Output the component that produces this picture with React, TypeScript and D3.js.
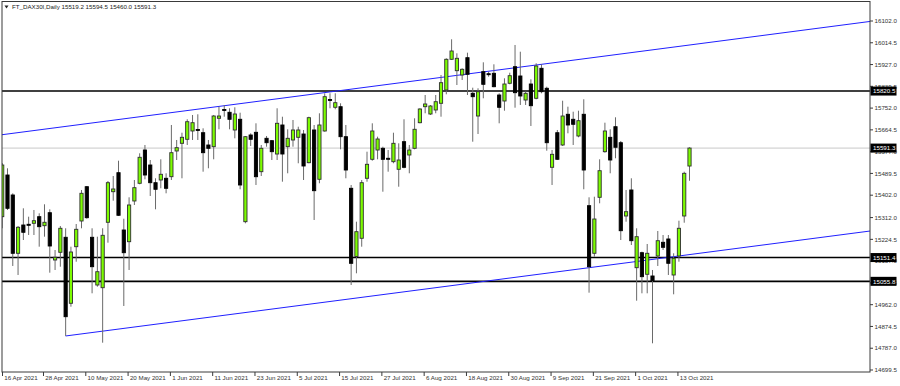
import React from 'react';
import * as d3 from 'd3';

const W = 900;
const H = 386;

const title = 'FT_DAX30I,Daily  15519.2 15594.5 15460.0 15591.3';

const dateLabels = [
  '16 Apr 2021', '28 Apr 2021', '10 May 2021', '20 May 2021', '1 Jun 2021', '11 Jun 2021',
  '23 Jun 2021', '5 Jul 2021', '15 Jul 2021', '27 Jul 2021', '6 Aug 2021', '18 Aug 2021',
  '30 Aug 2021', '9 Sep 2021', '21 Sep 2021', '1 Oct 2021', '13 Oct 2021',
];
const dateLabelBar = [0, 8, 16, 24, 32, 40, 48, 56, 64, 72, 80, 88, 96, 104, 112, 120, 128];

const priceTicks = [
  16102.0, 16014.5, 15927.0, 15839.5, 15752.0, 15664.5, 15577.0, 15489.5, 15402.0,
  15312.0, 15224.5, 15137.0, 15049.5, 14962.0, 14874.5, 14787.0, 14699.5,
];

const opens = [
  15315.6, 15483.1, 15402.8, 15168.5, 15282.2, 15285.0, 15289.0, 15315.6, 15279.4, 15331.6,
  15141.6, 15172.5, 15232.8, 14967.6, 15195.0, 15298.3, 15436.1, 15232.8, 15041.1, 15030.2,
  15293.1, 15416.0, 15492.4, 15262.1, 15215.1, 15378.7, 15449.8, 15583.6, 15523.3, 15452.2,
  15463.1, 15469.9, 15476.3, 15579.6, 15610.5, 15626.6, 15660.0, 15666.0, 15653.1, 15603.7,
  15596.9, 15711.0, 15746.4, 15735.1, 15664.0, 15707.0, 15295.5, 15643.9, 15654.7, 15496.4,
  15630.6, 15621.0, 15567.5, 15684.1, 15596.9, 15623.8, 15634.6, 15647.9, 15532.6, 15664.0,
  15465.9, 15660.0, 15786.5, 15755.2, 15757.6, 15637.1, 15429.7, 15155.6, 15228.8, 15469.9,
  15546.2, 15583.6, 15590.4, 15550.3, 15536.6, 15506.1, 15617.0, 15563.5, 15590.4, 15693.3,
  15757.6, 15728.3, 15744.4, 15771.3, 15824.7, 15948.1, 15902.3, 15885.0, 15954.5, 15811.5,
  15720.2, 15898.3, 15890.2, 15891.8, 15804.6, 15780.5, 15851.7, 15918.4, 15881.0, 15784.5,
  15848.8, 15791.4, 15911.9, 15831.6, 15514.1, 15653.1, 15603.7, 15727.1, 15707.0, 15639.9,
  15727.1, 15359.8, 15168.5, 15393.5, 15576.8, 15634.6, 15677.2, 15612.9, 15318.4, 15422.9,
  15110.6, 15170.9, 15084.1, 15077.3, 15157.6, 15212.7, 15226.0, 15081.3, 15157.6, 15318.4,
  15519.2,
];
const highs = [
  15531.4, 15510.1, 15409.6, 15278.2, 15349.3, 15315.6, 15342.5, 15329.2, 15365.4, 15345.3,
  15181.7, 15278.2, 15269.0, 15195.0, 15286.2, 15422.9, 15438.9, 15269.0, 15235.2, 15269.0,
  15459.0, 15479.1, 15540.6, 15307.5, 15393.5, 15463.1, 15570.3, 15603.7, 15543.4, 15469.9,
  15546.2, 15490.0, 15684.1, 15623.8, 15653.1, 15707.0, 15724.3, 15727.1, 15670.8, 15623.8,
  15724.3, 15757.6, 15764.4, 15751.2, 15755.2, 15733.5, 15639.9, 15650.7, 15690.9, 15603.7,
  15639.9, 15623.8, 15751.2, 15717.4, 15666.8, 15704.2, 15677.2, 15664.0, 15717.4, 15684.1,
  15731.1, 15811.5, 15811.5, 15811.5, 15771.3, 15684.1, 15443.0, 15295.5, 15463.1, 15576.8,
  15690.9, 15637.1, 15596.9, 15583.6, 15653.1, 15610.5, 15707.0, 15603.7, 15711.0, 15751.2,
  15804.6, 15764.4, 15804.6, 15885.0, 15952.1, 16028.5, 15972.2, 15911.9, 15974.6, 15834.0,
  15831.6, 15936.0, 15898.3, 15928.0, 15811.5, 15871.7, 15894.2, 16005.6, 15978.6, 15817.9,
  15867.7, 15932.0, 15928.0, 15838.0, 15583.6, 15664.0, 15781.7, 15757.6, 15737.5, 15741.5,
  15787.4, 15393.5, 15395.9, 15546.2, 15693.3, 15666.8, 15715.0, 15619.8, 15422.9, 15469.9,
  15269.0, 15175.0, 15205.9, 15101.4, 15258.1, 15242.0, 15242.0, 15168.5, 15299.5, 15496.4,
  15594.5,
];
const lows = [
  15269.0, 15342.5, 15117.5, 15081.3, 15221.9, 15242.0, 15242.0, 15195.0, 15235.2, 15090.5,
  15101.4, 15114.6, 14836.2, 14953.9, 15134.7, 15269.0, 15307.5, 15007.7, 15034.3, 14809.2,
  15211.1, 15379.9, 15318.4, 14956.7, 15101.4, 15362.6, 15445.8, 15465.9, 15398.8, 15345.3,
  15429.7, 15409.6, 15463.1, 15543.4, 15469.9, 15603.7, 15623.8, 15623.8, 15496.4, 15510.1,
  15546.2, 15666.8, 15717.4, 15666.8, 15630.6, 15425.7, 15289.0, 15599.7, 15443.0, 15479.1,
  15596.9, 15543.4, 15543.4, 15456.2, 15490.0, 15596.9, 15530.2, 15463.1, 15530.2, 15302.3,
  15449.8, 15657.2, 15751.2, 15747.2, 15586.4, 15469.9, 15041.1, 15088.1, 15195.0, 15456.2,
  15540.6, 15546.2, 15416.0, 15496.4, 15530.2, 15436.1, 15510.1, 15490.0, 15586.4, 15690.9,
  15731.1, 15724.3, 15731.1, 15717.4, 15807.4, 15945.3, 15844.8, 15864.9, 15804.6, 15617.0,
  15647.9, 15791.4, 15878.2, 15835.6, 15690.9, 15741.5, 15847.6, 15753.6, 15764.5, 15764.5,
  15680.1, 15787.4, 15811.5, 15580.8, 15443.0, 15543.4, 15599.7, 15650.7, 15603.7, 15634.6,
  15425.7, 15010.2, 15154.8, 15369.4, 15572.8, 15490.0, 15550.3, 15221.9, 15295.5, 15201.8,
  14978.0, 15007.7, 15007.7, 14806.8, 15117.5, 15181.7, 15081.3, 15003.7, 15134.7, 15291.4,
  15460.0,
];
const closes = [
  15523.3, 15349.3, 15168.5, 15273.0, 15252.9, 15283.0, 15299.5, 15275.4, 15293.1, 15197.8,
  15152.4, 15269.0, 14913.7, 15173.7, 15264.9, 15409.6, 15311.6, 15114.6, 15094.5, 15240.8,
  15452.2, 15426.9, 15321.2, 15170.9, 15362.6, 15432.1, 15554.3, 15483.1, 15452.2, 15425.7,
  15486.0, 15429.7, 15572.8, 15592.9, 15634.6, 15697.3, 15693.3, 15664.0, 15572.8, 15590.4,
  15720.2, 15720.2, 15742.3, 15707.0, 15728.3, 15443.0, 15637.1, 15626.6, 15476.3, 15590.4,
  15612.9, 15576.8, 15690.9, 15567.5, 15630.6, 15664.0, 15664.0, 15519.3, 15713.4, 15420.1,
  15684.1, 15797.8, 15782.5, 15773.7, 15637.1, 15503.2, 15128.3, 15255.3, 15452.2, 15526.1,
  15660.0, 15627.8, 15546.2, 15546.2, 15610.5, 15543.4, 15514.1, 15583.6, 15666.8, 15748.4,
  15768.5, 15760.4, 15777.7, 15854.1, 15948.1, 15981.5, 15952.1, 15907.9, 15887.8, 15797.8,
  15817.9, 15847.6, 15887.8, 15838.0, 15755.2, 15848.8, 15882.2, 15813.9, 15800.6, 15811.5,
  15761.6, 15921.2, 15817.9, 15612.9, 15566.3, 15546.2, 15720.2, 15684.1, 15686.9, 15701.4,
  15503.2, 15114.6, 15306.3, 15500.4, 15660.0, 15543.4, 15594.5, 15259.3, 15335.7, 15219.1,
  15235.2, 15074.5, 15168.5, 15058.4, 15219.1, 15192.6, 15128.3, 15148.4, 15269.0, 15489.9,
  15591.3,
];

const levelLines = [15820.5, 15151.4, 15055.8];
const bidPrice = 15591.3;
// channel anchors: [bar index, price]
const upperChannel: [number, number][] = [[0, 15645.1], [160, 16088.7]];
const lowerChannel: [number, number][] = [[12, 14836.2], [160, 15246.5]];

const plotLeft = 2;
const plotRight = 870;
const plotTop = 1.5;
const plotBottom = 372;

const FONT = '"Liberation Sans", Arial, sans-serif';

export default function App() {
  const x = d3.scaleLinear().domain([0, 128]).range([2.2, 2.2 + 5.287 * 128]);
  const y = d3.scaleLinear().domain([14699.5, 16102]).range([370, 21]);

  const lineAt = (a: [number, number][], i: number) => {
    const [i0, p0] = a[0];
    const [i1, p1] = a[1];
    return p0 + ((p1 - p0) * (i - i0)) / (i1 - i0);
  };
  const iLeft = x.invert(plotLeft) - 1;
  const iRight = x.invert(plotRight) + 1;

  const chLine = d3
    .line<[number, number]>()
    .x((d) => x(d[0]))
    .y((d) => y(d[1]));

  const upperPts: [number, number][] = [
    [iLeft, lineAt(upperChannel, iLeft)],
    [iRight, lineAt(upperChannel, iRight)],
  ];
  const lowerPts: [number, number][] = [
    [lowerChannel[0][0], lowerChannel[0][1]],
    [iRight, lineAt(lowerChannel, iRight)],
  ];

  const bars = opens.map((o, i) => ({ o, h: highs[i], l: lows[i], c: closes[i], i }));

  const boxLabel = (p: number, key: string) => {
    const yy = y(p);
    return (
      <g key={key}>
        <rect x={870.5} y={yy - 4.5} width={26} height={9} fill="#000" />
        <text
          x={873}
          y={yy + 2.2}
          fontSize={6.2}
          fill="#fff"
          fontFamily={FONT}
        >
          {p.toFixed(1)}
        </text>
      </g>
    );
  };

  return (
    <svg
      width={W}
      height={H}
      style={{ position: 'absolute', left: 0, top: 0, background: '#fff' }}
    >
      <defs>
        <clipPath id="plot">
          <rect x={plotLeft} y={plotTop} width={plotRight - plotLeft} height={plotBottom - plotTop} />
        </clipPath>
      </defs>
      <rect x={0} y={0} width={W} height={H} fill="#fff" />

      <g clipPath="url(#plot)">
        {/* bid line */}
        <line
          x1={plotLeft}
          x2={plotRight}
          y1={y(bidPrice)}
          y2={y(bidPrice)}
          stroke="#c8c8c8"
          strokeWidth={1}
        />
        {/* horizontal levels */}
        {levelLines.map((p, k) => (
          <line
            key={'lv' + k}
            x1={plotLeft}
            x2={plotRight}
            y1={y(p)}
            y2={y(p)}
            stroke="#000"
            strokeWidth={1.6}
          />
        ))}
        {/* channel */}
        <path d={chLine(upperPts) || ''} stroke="#2020ff" strokeWidth={1} fill="none" />
        <path d={chLine(lowerPts) || ''} stroke="#2020ff" strokeWidth={1} fill="none" />

        {/* candles */}
        {bars.map((b) => {
          const cx = x(b.i);
          const up = b.c >= b.o;
          const yTop = y(Math.max(b.o, b.c));
          const yBot = y(Math.min(b.o, b.c));
          const hgt = Math.max(1, yBot - yTop);
          return (
            <g key={'c' + b.i}>
              <line x1={cx} x2={cx} y1={y(b.h)} y2={y(b.l)} stroke="#6a6a6a" strokeWidth={1} />
              <rect
                x={cx - 1.6}
                y={yTop}
                width={3.2}
                height={hgt}
                fill={up ? '#7cfc00' : '#000'}
                stroke={up ? '#2f2f2f' : '#000'}
                strokeWidth={0.9}
              />
            </g>
          );
        })}
      </g>

      {/* frame */}
      <rect
        x={plotLeft}
        y={plotTop}
        width={plotRight - plotLeft}
        height={plotBottom - plotTop}
        fill="none"
        stroke="#3a3a3a"
        strokeWidth={1}
      />

      {/* price axis */}
      {priceTicks.map((p, k) => (
        <g key={'pt' + k}>
          <line x1={plotRight} x2={plotRight + 3} y1={y(p)} y2={y(p)} stroke="#3a3a3a" />
          <text x={874.5} y={y(p) + 2.2} fontSize={6.2} fill="#333" fontFamily={FONT}>
            {p.toFixed(1)}
          </text>
        </g>
      ))}

      {/* time axis */}
      {dateLabels.map((lbl, k) => {
        const tx = Math.max(plotLeft + 0.5, x(dateLabelBar[k]) - 1);
        return (
          <g key={'dt' + k}>
            <line x1={tx} x2={tx} y1={plotBottom} y2={plotBottom + 4} stroke="#3a3a3a" />
            <text x={tx + 1.8} y={379.8} fontSize={6.2} fill="#333" fontFamily={FONT}>
              {lbl}
            </text>
          </g>
        );
      })}

      {/* level labels */}
      {levelLines.map((p, k) => boxLabel(p, 'bl' + k))}
      {boxLabel(bidPrice, 'bid')}

      {/* title */}
      <path d="M4.5,5.5 L8.5,5.5 L6.5,8.5 Z" fill="#222" />
      <text x={12} y={9} fontSize={6.2} fill="#222" fontFamily={FONT}>
        {title}
      </text>
    </svg>
  );
}
